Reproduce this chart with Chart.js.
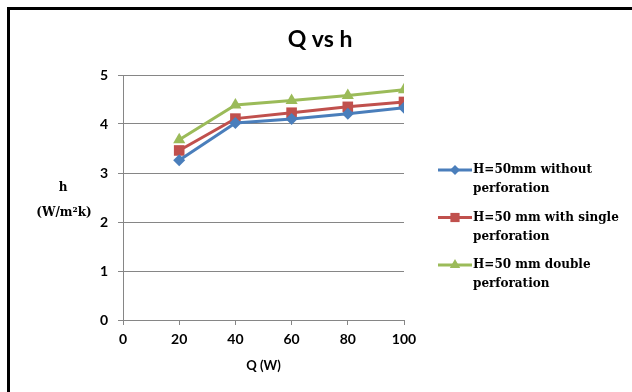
<!DOCTYPE html>
<html>
<head>
<meta charset="utf-8">
<script src="https://cdn.jsdelivr.net/npm/chart.js@4/dist/chart.umd.min.js"></script>
<style>
  html, body { margin: 0; padding: 0; background: #fff; }
  #wrap { position: relative; width: 632px; height: 392px; }
  #frame { position: absolute; left: 7px; top: 7px; right: -10px; bottom: -10px; border: 3px solid #000; }
</style>
</head>
<body>
<div id="wrap">
  <canvas id="chart" width="632" height="392"></canvas>
  <div id="frame"></div>
</div>
<script>
// ---------- data ----------
const qValues = [20, 40, 60, 80, 100];
const hWithout = [3.26, 4.02, 4.10, 4.21, 4.33];
const hSingle = [3.46, 4.11, 4.23, 4.35, 4.45];
const hDouble = [3.68, 4.39, 4.48, 4.58, 4.70];
const seriesLabels = [
  ['H=50mm without', 'perforation'],
  ['H=50 mm with single', 'perforation'],
  ['H=50 mm double', 'perforation']
];
const xTicks = [0, 20, 40, 60, 80, 100];
const yTicks = [0, 1, 2, 3, 4, 5];

const sansBold = 'bold 13px Lato, "Open Sans", sans-serif';
const serifBold = 'bold 12px "DejaVu Serif", serif';

function pts(ys) { return qValues.map((q, i) => ({ x: q, y: ys[i] })); }

const series = [
  { data: hWithout, color: '#4A7EBB', marker: 'rectRot', r: 6 },
  { data: hSingle, color: '#C0504D', marker: 'rect', r: 7.5 },
  { data: hDouble, color: '#9BBB59', marker: 'triangle', r: 7 }
];

// texts + legend drawn on the canvas
const textPlugin = {
  id: 'texts',
  afterDraw(chart) {
    const ctx = chart.ctx;
    const ca = chart.chartArea;
    ctx.save();
    ctx.fillStyle = '#000';
    ctx.textAlign = 'center';
    ctx.textBaseline = 'middle';
    ctx.font = 'bold 23px Lato, "Open Sans", sans-serif';
    ctx.fillText('Q vs h', 320, 40);
    ctx.font = sansBold;
    ctx.fillText('Q (W)', (ca.left + ca.right) / 2, 366);
    ctx.font = serifBold;
    ctx.fillText('h', 63, 188);
    ctx.fillText('(W/m²k)', 64, 213);

    // legend
    const x0 = 438, x1 = 472;
    chart.data.datasets.forEach((ds, i) => {
      const y = 170 + i * 47.5;
      ctx.strokeStyle = ds.borderColor;
      ctx.lineWidth = 3;
      ctx.beginPath();
      ctx.moveTo(x0, y);
      ctx.lineTo(x1, y);
      ctx.stroke();
      ctx.fillStyle = ds.backgroundColor;
      Chart.helpers.drawPoint(ctx, { pointStyle: ds.pointStyle, radius: ds.pointRadius - 1, rotation: 0, borderWidth: 0 }, (x0 + x1) / 2, y);
      ctx.fillStyle = '#000';
      ctx.textAlign = 'left';
      ctx.font = serifBold;
      seriesLabels[i].forEach((line, j) => ctx.fillText(line, x1 + 1, y + j * 19));
    });
    ctx.restore();
  }
};

new Chart(document.getElementById('chart'), {
  type: 'scatter',
  data: {
    datasets: series.map((s, i) => ({
      label: seriesLabels[i].join(' '),
      data: pts(s.data),
      showLine: true,
      borderColor: s.color,
      backgroundColor: s.color,
      borderWidth: 3,
      pointStyle: s.marker,
      pointRadius: s.r,
      pointBorderWidth: 0,
      tension: 0
    }))
  },
  options: {
    responsive: false,
    animation: false,
    layout: { padding: { left: 0, top: 75, right: 228, bottom: 0 } },
    plugins: { legend: { display: false }, title: { display: false }, tooltip: { enabled: false } },
    scales: {
      x: {
        type: 'linear', min: 0, max: 100,
        afterFit(s) { s.height = 72; },
        afterBuildTicks(s) { s.ticks = xTicks.map(v => ({ value: v })); },
        grid: { drawOnChartArea: false, drawTicks: true, tickLength: 5, color: '#868686' },
        border: { color: '#868686', width: 1 },
        ticks: { color: '#000', font: { family: 'Lato, "Open Sans", sans-serif', size: 14, weight: 'bold' }, padding: 6, maxRotation: 0 }
      },
      y: {
        min: 0, max: 5,
        afterFit(s) { s.width = 123; },
        afterBuildTicks(s) { s.ticks = yTicks.map(v => ({ value: v })); },
        grid: { color: '#868686', drawTicks: true, tickLength: 5 },
        border: { color: '#868686', width: 1 },
        ticks: { color: '#000', font: { family: 'Lato, "Open Sans", sans-serif', size: 14, weight: 'bold' }, padding: 10 }
      }
    }
  },
  plugins: [textPlugin]
});
</script>
</body>
</html>
